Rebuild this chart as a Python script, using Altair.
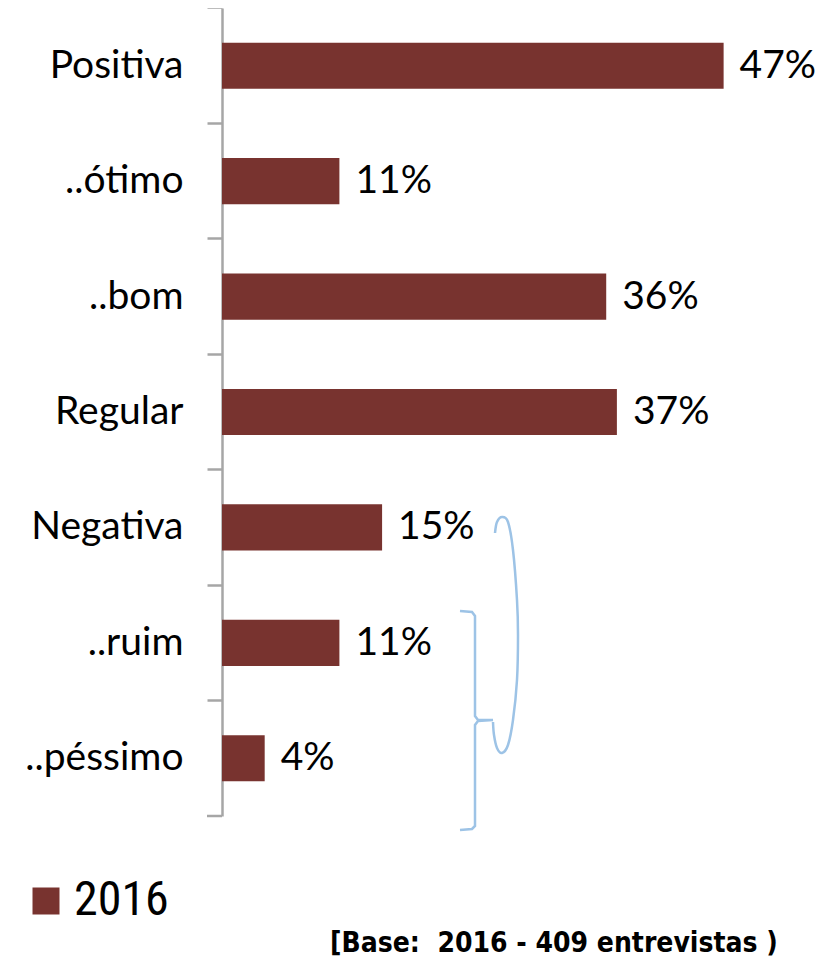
import altair as alt
import pandas as pd

categories = ["Positiva", "..ótimo", "..bom", "Regular", "Negativa", "..ruim", "..péssimo"]
values = [47, 11, 36, 37, 15, 11, 4]
labels = ["47%", "11%", "36%", "37%", "15%", "11%", "4%"]
series = ["2016"] * 7
footnote = "[Base:\u00a0\u00a02016 - 409 entrevistas )"

# decorative bracket paths (annotation, pixel coords relative to plot origin)
brace_x = [238, 250, 253, 253, 256, 271, 256, 253, 253, 250, 238]
brace_y = [603, 604, 608, 708, 712, 712, 713, 717, 818, 821, 822]
arc_x = [273, 275, 280, 286, 291, 295, 296, 295, 291, 286, 280, 275, 272, 271]
arc_y = [525, 514, 509, 514, 542, 592, 627, 672, 712, 737, 745, 740, 727, 714]

FONT = "Lato"
COND = "Roboto Condensed, Liberation Sans"
FOOT = "DejaVu Sans Condensed, Liberation Sans"
BAR = "#78332F"
W, H = 587, 808

df = pd.DataFrame({"cat": categories, "val": values, "lab": labels, "ano": series})
brace = pd.DataFrame({"px": brace_x, "py": brace_y, "o": list(range(len(brace_x)))})
arc = pd.DataFrame({"px": arc_x, "py": arc_y, "o": list(range(len(arc_x)))})

y_enc = alt.Y("cat:N", sort=categories,
              scale=alt.Scale(paddingInner=0.6, paddingOuter=0.3),
              axis=alt.Axis(title=None, bandPosition=-0.75,
                            labelFontSize=39, labelFont=FONT, labelColor="black",
                            labelPadding=24, tickSize=15, tickColor="#A6A6A6",
                            tickWidth=2.5, domainColor="#A6A6A6", domainWidth=2.5,
                            grid=False))
x_enc = alt.X("val:Q", scale=alt.Scale(domain=[0, 55]), axis=None)

bars = alt.Chart(df).mark_bar().encode(
    x=x_enc, y=y_enc,
    color=alt.Color("ano:N", scale=alt.Scale(range=[BAR]),
                    legend=alt.Legend(title=None, orient="none", legendX=-200, legendY=869,
                                      symbolType="square", symbolSize=729,
                                      symbolStrokeWidth=0, labelFontSize=48,
                                      labelFont=COND, labelColor="black",
                                      labelOffset=4, padding=0)),
)

text = alt.Chart(df).mark_text(align="left", baseline="middle", dx=16,
                               fontSize=39, font=FONT, color="black").encode(
    x=x_enc, y=alt.Y("cat:N", sort=categories, axis=None), text="lab:N")

bottom_tick = alt.Chart(pd.DataFrame({"a": [0]})).mark_rule(
    color="#A6A6A6", strokeWidth=2.5).encode(
    x=alt.value(-15), x2=alt.value(0), y=alt.value(H))

brace_line = alt.Chart(brace).mark_line(color="#9DC3E6", strokeWidth=2.5).encode(
    x=alt.X("px:Q", scale=None), y=alt.Y("py:Q", scale=None), order="o:Q")
arc_line = alt.Chart(arc).mark_line(color="#9DC3E6", strokeWidth=2.5,
                                    interpolate="cardinal").encode(
    x=alt.X("px:Q", scale=None), y=alt.Y("py:Q", scale=None), order="o:Q")

footer = alt.Chart(pd.DataFrame({"t": [footnote]})).mark_text(
    align="left", baseline="alphabetic", fontSize=28, fontWeight="bold",
    font=FOOT, color="black").encode(
    x=alt.value(108), y=alt.value(944), text="t:N")

chart = alt.layer(bars, text, bottom_tick, brace_line, arc_line, footer).resolve_scale(
    x="independent", y="independent"
).properties(
    width=W, height=H,
    autosize=alt.AutoSizeParams(type="none"),
    padding={"left": 214, "top": 0, "right": 11, "bottom": 142},
).configure_view(stroke=None)

chart.save("out.html", embed_options={"renderer": "svg", "actions": False})
